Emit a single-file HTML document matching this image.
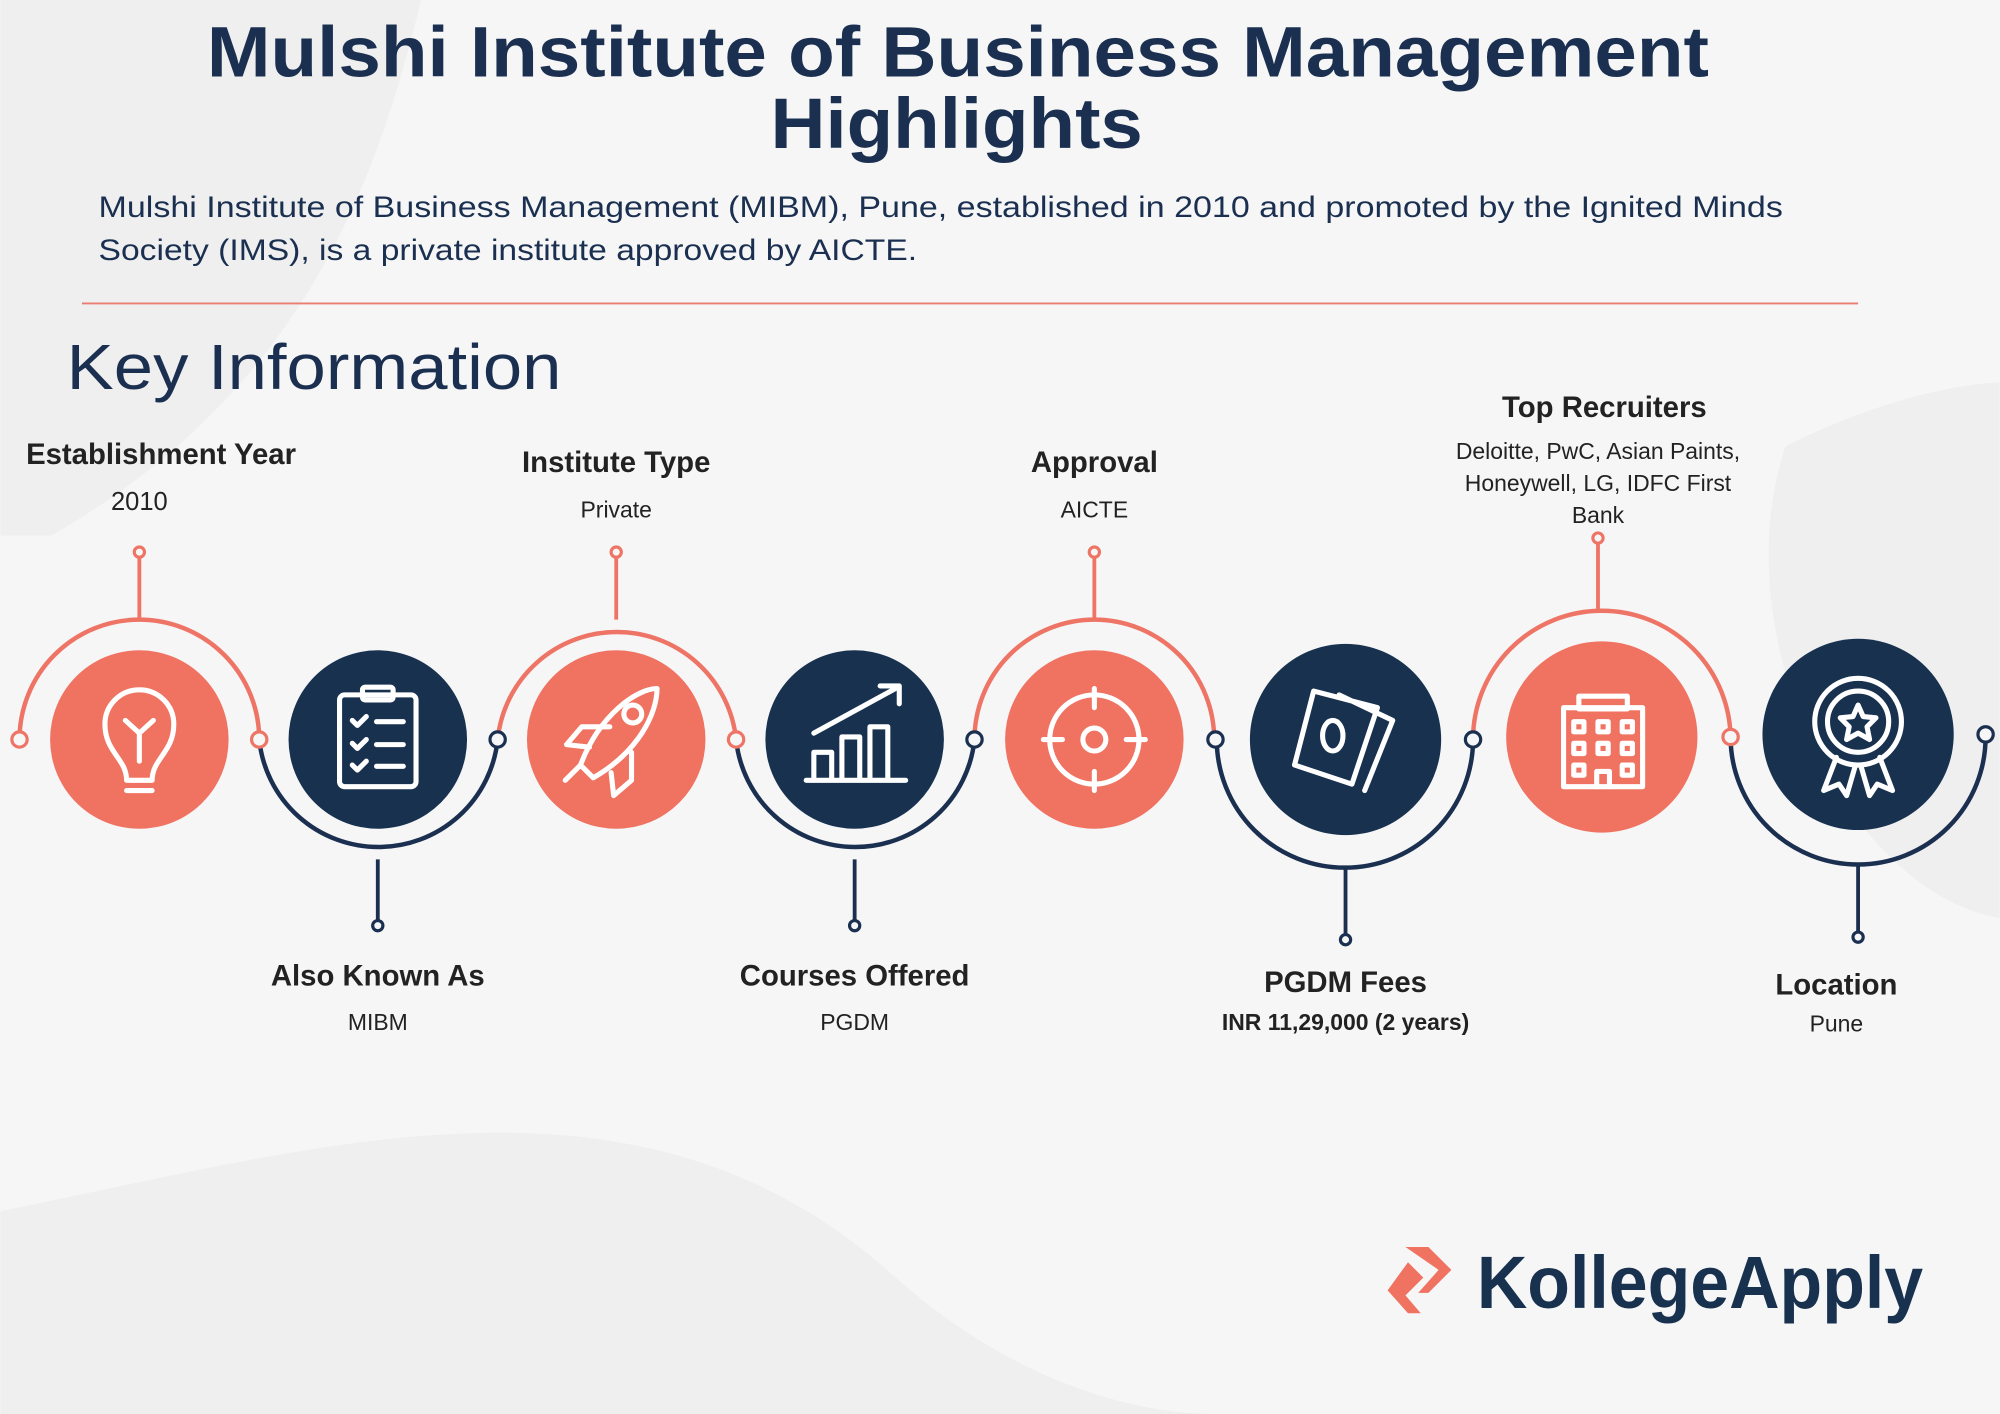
<!DOCTYPE html>
<html><head><meta charset="utf-8"><style>
html,body{margin:0;padding:0;width:2000px;height:1414px;overflow:hidden;background:#f6f6f7}
svg{display:block}
text{font-family:"Liberation Sans",sans-serif}
</style></head><body>
<svg width="2000" height="1414" viewBox="0 0 1568 1109" xmlns="http://www.w3.org/2000/svg">
<rect width="1568" height="1109" fill="#f6f6f7"/>
<path d="M0 0 L330 0 C300 120 250 300 40 420 L0 420Z" fill="#efeff0"/>
<path d="M0 950 C250 900 500 820 700 1000 C800 1090 900 1109 950 1109 L0 1109Z" fill="#efeff0"/>
<path d="M1400 350 C1500 300 1568 300 1568 300 L1568 720 C1450 700 1350 500 1400 350Z" fill="#efeff0"/>
<text x="162" y="60" textLength="1178" lengthAdjust="spacingAndGlyphs" font-size="56" font-weight="bold" fill="#1b3050">Mulshi Institute of Business Management</text>
<text x="604" y="116" textLength="292" lengthAdjust="spacingAndGlyphs" font-size="56" font-weight="bold" fill="#1b3050">Highlights</text>
<text x="77" y="170" textLength="1321" lengthAdjust="spacingAndGlyphs" font-size="23" fill="#1b3050">Mulshi Institute of Business Management (MIBM), Pune, established in 2010 and promoted by the Ignited Minds</text>
<text x="77" y="204" textLength="642" lengthAdjust="spacingAndGlyphs" font-size="23" fill="#1b3050">Society (IMS), is a private institute approved by AICTE.</text>
<line x1="64" y1="238" x2="1457" y2="238" stroke="#ea7d6f" stroke-width="1.5"/>
<text x="52" y="305" textLength="388" lengthAdjust="spacingAndGlyphs" font-size="50" fill="#1b3050">Key Information</text>
<g fill="none" stroke-width="3.5">
<path d="M15 580 A94 94 0 0 1 203 580" stroke="#ee7566"/>
<path d="M203 580 A94 94 0 0 0 390 580" stroke="#1b3050"/>
<path d="M390 580 A94 94 0 0 1 577 580" stroke="#ee7566"/>
<path d="M577 580 A94 94 0 0 0 764 580" stroke="#1b3050"/>
<path d="M764 580 A94 94 0 0 1 952 580" stroke="#ee7566"/>
<path d="M954 580 A100 100 0 0 0 1155 580" stroke="#1b3050"/>
<path d="M1155 580 A101 101 0 0 1 1357 580" stroke="#ee7566"/>
<path d="M1357 578 A100 100 0 0 0 1557 578" stroke="#1b3050"/>
<g stroke-width="3">
<line x1="109" y1="437" x2="109" y2="486" stroke="#ee7566"/>
<line x1="483" y1="437" x2="483" y2="486" stroke="#ee7566"/>
<line x1="858" y1="437" x2="858" y2="486" stroke="#ee7566"/>
<line x1="1253" y1="426" x2="1253" y2="479" stroke="#ee7566"/>
<line x1="296" y1="674" x2="296" y2="722" stroke="#1b3050"/>
<line x1="670" y1="674" x2="670" y2="722" stroke="#1b3050"/>
<line x1="1055" y1="680" x2="1055" y2="733" stroke="#1b3050"/>
<line x1="1457" y1="678" x2="1457" y2="731" stroke="#1b3050"/>
</g>
<g stroke-width="2.5" fill="#f6f6f7">
<circle cx="109" cy="433" r="4" stroke="#ee7566"/><circle cx="483" cy="433" r="4" stroke="#ee7566"/>
<circle cx="858" cy="433" r="4" stroke="#ee7566"/><circle cx="1253" cy="422" r="4" stroke="#ee7566"/>
<circle cx="296" cy="726" r="4" stroke="#1b3050"/><circle cx="670" cy="726" r="4" stroke="#1b3050"/>
<circle cx="1055" cy="737" r="4" stroke="#1b3050"/><circle cx="1457" cy="735" r="4" stroke="#1b3050"/>
<circle cx="15" cy="580" r="6" stroke="#ee7566"/><circle cx="203" cy="580" r="6" stroke="#ee7566"/>
<circle cx="390" cy="580" r="6" stroke="#1b3050"/><circle cx="577" cy="580" r="6" stroke="#ee7566"/>
<circle cx="764" cy="580" r="6" stroke="#1b3050"/><circle cx="953" cy="580" r="6" stroke="#1b3050"/>
<circle cx="1155" cy="580" r="6" stroke="#1b3050"/><circle cx="1357" cy="578" r="6" stroke="#ee7566"/>
<circle cx="1557" cy="576" r="6" stroke="#1b3050"/>
</g>
</g>
<circle cx="109" cy="580" r="70" fill="#f07261"/>
<circle cx="296" cy="580" r="70" fill="#17314f"/>
<circle cx="483" cy="580" r="70" fill="#f07261"/>
<circle cx="670" cy="580" r="70" fill="#17314f"/>
<circle cx="858" cy="580" r="70" fill="#f07261"/>
<circle cx="1055" cy="580" r="75" fill="#17314f"/>
<circle cx="1256" cy="578" r="75" fill="#f07261"/>
<circle cx="1457" cy="576" r="75" fill="#17314f"/>
<g fill="none" stroke="#fff" stroke-width="4" stroke-linecap="round" stroke-linejoin="round">
<path d="M99 612 C99 595 82 590 82 568 A27 27 0 1 1 136 568 C136 590 119 595 119 612Z M99 620 H119 M109 597 V575 L98 565 M109 575 L120 565"/>
<rect x="266" y="545" width="60" height="72" rx="4"/><rect x="284" y="539" width="24" height="10" rx="2"/>
<path d="M276 565 l4 4 7 -7 M295 566 H316 M276 583 l4 4 7 -7 M295 584 H316 M276 600 l4 4 7 -7 M295 601 H316"/>
<path d="M455 600 C470 560 500 540 515 540 C515 560 500 590 465 610Z M478 570 l-22 0 -12 14 18 2 M495 590 l0 22 -14 12 -2 -18 M455 600 l-12 12"/><circle cx="496" cy="560" r="7"/>
<path d="M632 612 H710 M638 610 V590 H652 V610 M660 610 V578 H674 V610 M682 610 V570 H696 V610 M638 575 L702 540 M690 538 H705 V552"/>
<circle cx="858" cy="580" r="35"/><circle cx="858" cy="580" r="9"/><path d="M858 540 V555 M858 605 V620 M818 580 H833 M883 580 H898"/>
<path d="M1030 542 L1080 555 L1060 615 L1015 600Z M1050 545 L1092 565 L1070 620"/><ellipse cx="1045" cy="577" rx="8" ry="12"/>
<rect x="1226" y="555" width="62" height="62"/><rect x="1238" y="546" width="38" height="10"/>
<path d="M1234 566 h8 v8 h-8z M1253 566 h8 v8 h-8z M1272 566 h8 v8 h-8z M1234 583 h8 v8 h-8z M1253 583 h8 v8 h-8z M1272 583 h8 v8 h-8z M1234 600 h8 v8 h-8z M1272 600 h8 v8 h-8z M1252 617 v-12 h10 v12"/>
<circle cx="1457" cy="566" r="34"/><circle cx="1457" cy="566" r="24"/>
<path d="M1457 553 l4 9 10 1 -7 7 2 10 -9 -5 -9 5 2 -10 -7 -7 10 -1z M1440 594 L1430 620 L1442 615 L1448 624 L1455 600 M1474 594 L1484 620 L1472 615 L1466 624 L1459 600"/>
</g>
<g fill="#222" text-anchor="middle">
<text x="126" y="364" font-size="23" font-weight="bold">Establishment Year</text>
<text x="109" y="400" font-size="20">2010</text>
<text x="483" y="370" font-size="23" font-weight="bold">Institute Type</text>
<text x="483" y="406" font-size="18">Private</text>
<text x="858" y="370" font-size="23" font-weight="bold">Approval</text>
<text x="858" y="406" font-size="18">AICTE</text>
<text x="1258" y="327" font-size="23" font-weight="bold">Top Recruiters</text>
<text x="1253" y="360" font-size="18">Deloitte, PwC, Asian Paints,</text>
<text x="1253" y="385" font-size="18">Honeywell, LG, IDFC First</text>
<text x="1253" y="410" font-size="18">Bank</text>
<text x="296" y="773" font-size="23" font-weight="bold">Also Known As</text>
<text x="296" y="808" font-size="18">MIBM</text>
<text x="670" y="773" font-size="23" font-weight="bold">Courses Offered</text>
<text x="670" y="808" font-size="18">PGDM</text>
<text x="1055" y="778" font-size="23" font-weight="bold">PGDM Fees</text>
<text x="1055" y="808" font-size="18" font-weight="bold">INR 11,29,000 (2 years)</text>
<text x="1440" y="780" font-size="23" font-weight="bold">Location</text>
<text x="1440" y="809" font-size="18">Pune</text>
</g>
<g fill="#f07261">
<path d="M1102 978 L1120 978 L1138 996 L1120 1014 L1112 1014 L1128 996Z"/>
<path d="M1104 990 L1116 1002 L1102 1016 L1114 1030 L1104 1030 L1088 1012Z"/>
</g>
<text x="1158" y="1026" textLength="350" lengthAdjust="spacingAndGlyphs" font-size="58" font-weight="bold" fill="#17314f">KollegeApply</text>
</svg>
</body></html>
